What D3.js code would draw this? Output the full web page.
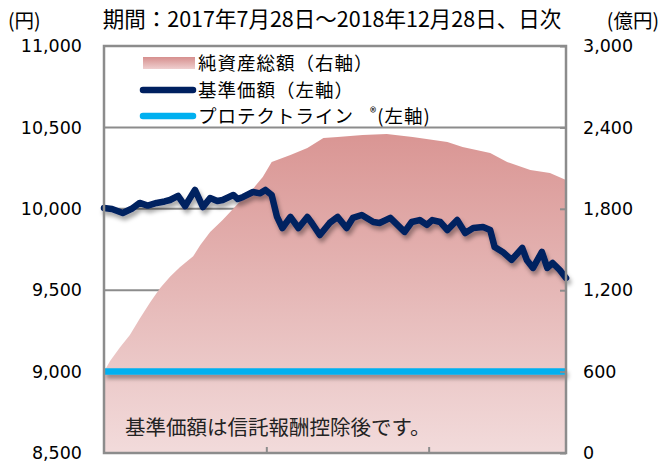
<!DOCTYPE html>
<html>
<head>
<meta charset="utf-8">
<script src="https://cdn.jsdelivr.net/npm/d3@7"></script>
<style>
  body { margin: 0; background: #fff; }
  svg { display: block; }
</style>
</head>
<body>
<svg width="661" height="462"></svg>
<script>
// 基準価額 (left axis, 円)
const navDates = ["2017-07-28","2017-08-06","2017-08-18","2017-08-28","2017-09-06","2017-09-15","2017-09-25",
  "2017-10-04","2017-10-10","2017-10-19","2017-10-27","2017-11-07","2017-11-16","2017-11-24","2017-12-02",
  "2017-12-08","2017-12-20","2017-12-25","2017-12-31","2018-01-11","2018-01-19","2018-01-25","2018-02-01",
  "2018-02-07","2018-02-13","2018-02-22","2018-03-03","2018-03-13","2018-03-18","2018-03-27","2018-04-07",
  "2018-04-16","2018-04-26","2018-05-03","2018-05-13","2018-05-26","2018-06-02","2018-06-14","2018-06-22",
  "2018-06-30","2018-07-08","2018-07-17","2018-07-25","2018-07-31","2018-08-09","2018-08-17","2018-08-28",
  "2018-09-06","2018-09-15","2018-09-26","2018-10-04","2018-10-09","2018-10-18","2018-10-28","2018-11-09",
  "2018-11-14","2018-11-21","2018-12-01","2018-12-07","2018-12-13","2018-12-21","2018-12-28"];
const navValues = [10005,9999,9974,10000,10036,10020,10036,
  10045,10054,10079,10017,10116,10011,10066,10048,
  10054,10085,10060,10073,10103,10095,10116,10085,
  9950,9882,9950,9882,9950,9913,9839,9913,
  9950,9882,9944,9962,9919,9913,9944,9901,
  9858,9919,9931,9901,9931,9919,9870,9931,
  9851,9882,9888,9870,9765,9735,9686,9759,
  9686,9637,9735,9637,9667,9624,9575];

// 純資産総額 (right axis, 億円)
const assetDates = ["2017-07-28","2017-08-04","2017-08-15","2017-08-26","2017-09-06","2017-09-18","2017-09-29",
  "2017-10-10","2017-10-21","2017-11-05","2017-11-13","2017-11-24","2017-12-08","2017-12-27","2018-01-08",
  "2018-01-22","2018-02-01","2018-02-07","2018-02-22","2018-03-13","2018-03-31","2018-04-16","2018-05-14",
  "2018-06-10","2018-07-09","2018-08-17","2018-09-03","2018-10-04","2018-10-23","2018-11-18","2018-12-10","2018-12-28"];
const assetValues = [600,680,780,870,990,1113,1216,
  1300,1370,1450,1533,1629,1717,1850,1924,
  2034,2145,2160,2197,2248,2322,2329,2344,
  2351,2329,2292,2256,2211,2145,2086,2064,2012];

const protectValue = 9000;
const leftTicks = [8500, 9000, 9500, 10000, 10500, 11000];
const rightTicks = [0, 600, 1200, 1800, 2400, 3000];
const xTickDates = ["2018-01-26", "2018-07-27"];
const startDate = "2017-07-28", endDate = "2018-12-28";

const parse = d3.timeParse("%Y-%m-%d");
const jp = "'Noto Sans CJK JP', sans-serif";
const num = "'DejaVu Sans', Verdana, sans-serif";

let svg = d3.select('svg');
let margin = { top: 46, bottom: 9, left: 104, right: 95 };
let width = +svg.attr('width');
let height = +svg.attr('height');

let x = d3.scaleTime()
  .domain([parse(startDate), parse(endDate)])
  .range([margin.left, width - margin.right]);
let y = d3.scaleLinear()
  .domain([8500, 11000])
  .range([height - margin.bottom, margin.top]);
let y2 = d3.scaleLinear()
  .domain([0, 3000])
  .range([height - margin.bottom, margin.top]);

let defs = svg.append("defs");
let grad = defs.append("linearGradient")
  .attr("id", "assetGrad")
  .attr("gradientUnits", "userSpaceOnUse")
  .attr("x1", 0).attr("x2", 0)
  .attr("y1", y2(2400)).attr("y2", y2(0));
grad.append("stop").attr("offset", "0%").attr("stop-color", "#d99492");
grad.append("stop").attr("offset", "100%").attr("stop-color", "#f2dbdb");

let legGrad = defs.append("linearGradient")
  .attr("id", "legGrad")
  .attr("x1", 0).attr("x2", 0).attr("y1", 0).attr("y2", 1);
legGrad.append("stop").attr("offset", "0%").attr("stop-color", "#d68f8e");
legGrad.append("stop").attr("offset", "100%").attr("stop-color", "#efcfcf");

// userSpaceOnUse so the flat protect line still gets a region
let shadow = defs.append("filter").attr("id", "shadow")
  .attr("filterUnits", "userSpaceOnUse")
  .attr("x", 0).attr("y", 0).attr("width", width).attr("height", height);
shadow.append("feDropShadow")
  .attr("dx", 2).attr("dy", 4).attr("stdDeviation", 2.2)
  .attr("flood-color", "#000").attr("flood-opacity", 0.35);

// gridlines
svg.append("g")
  .selectAll("line")
  .data(leftTicks.slice(1, -1))
  .enter()
    .append("line")
    .attr("x1", margin.left).attr("x2", width - margin.right)
    .attr("y1", d => y(d)).attr("y2", d => y(d))
    .attr("stroke", "#8c8c8c")
    .attr("stroke-width", 2);

// net assets area
let assetData = assetDates.map((d, i) => ({ date: parse(d), value: assetValues[i] }));
let area = d3.area()
  .x(d => x(d.date))
  .y0(y2(0))
  .y1(d => y2(d.value));
svg.append("path")
  .datum(assetData)
  .attr("fill", "url(#assetGrad)")
  .attr("d", area);

// protect line
let protectData = [parse(startDate), parse(endDate)];
svg.append("path")
  .datum(protectData)
  .attr("fill", "none")
  .attr("stroke", "#00b0f0")
  .attr("stroke-width", 6.5)
  .attr("filter", "url(#shadow)")
  .attr("d", d3.line().x(d => x(d)).y(() => y(protectValue)));

// NAV line
let navData = navDates.map((d, i) => ({ date: parse(d), value: navValues[i] }));
let line = d3.line()
  .x(d => x(d.date))
  .y(d => y(d.value));
svg.append("path")
  .datum(navData)
  .attr("fill", "none")
  .attr("stroke", "#002060")
  .attr("stroke-width", 6.5)
  .attr("stroke-linejoin", "round")
  .attr("stroke-linecap", "round")
  .attr("filter", "url(#shadow)")
  .attr("d", line);

// plot frame
svg.append("rect")
  .attr("x", margin.left).attr("y", margin.top)
  .attr("width", width - margin.left - margin.right)
  .attr("height", height - margin.top - margin.bottom)
  .attr("fill", "none")
  .attr("stroke", "#8c8c8c")
  .attr("stroke-width", 2.5);

// axes
let yAxis = g => g
  .attr("transform", `translate(${margin.left},0)`)
  .call(d3.axisLeft(y).tickValues(leftTicks).tickFormat(d3.format(",")).tickSize(0).tickPadding(22))
  .call(g => g.select(".domain").remove())
  .call(g => g.selectAll("text").attr("font-family", num).attr("font-size", 17.5).attr("fill", "#000"));
let y2Axis = g => g
  .attr("transform", `translate(${width - margin.right},0)`)
  .call(d3.axisRight(y2).tickValues(rightTicks).tickFormat(d3.format(",")).tickSize(-6).tickPadding(17))
  .call(g => g.select(".domain").remove())
  .call(g => g.selectAll("line").attr("stroke", "#8c8c8c").attr("stroke-width", 2))
  .call(g => g.selectAll("text").attr("font-family", num).attr("font-size", 17.5).attr("fill", "#000"));
let xAxis = g => g
  .attr("transform", `translate(0,${height - margin.bottom})`)
  .call(d3.axisBottom(x).tickValues(xTickDates.map(parse)).tickFormat("").tickSize(-6))
  .call(g => g.select(".domain").remove())
  .call(g => g.selectAll("line").attr("stroke", "#8c8c8c").attr("stroke-width", 2));

svg.append("g").call(yAxis);
svg.append("g").call(y2Axis);
svg.append("g").call(xAxis);

// titles / units
svg.append("text")
  .attr("x", 332).attr("y", 27)
  .attr("text-anchor", "middle")
  .attr("font-family", jp).attr("font-size", 21.5)
  .text("期間：2017年7月28日～2018年12月28日、日次");
svg.append("text")
  .attr("x", 8).attr("y", 28)
  .attr("font-family", jp).attr("font-size", 19.5)
  .text("(円)");
svg.append("text")
  .attr("x", 659).attr("y", 28)
  .attr("text-anchor", "end")
  .attr("font-family", jp).attr("font-size", 19.5)
  .text("(億円)");

// legend
let addLegend = (yPos, kind, label) => {
  let legend = svg.append("g").attr("class", "legend");
  if (kind === "area") {
    legend.append("rect")
      .attr("x", 143).attr("y", yPos - 6)
      .attr("width", 52).attr("height", 12)
      .attr("fill", "url(#legGrad)");
  } else {
    legend.append("line")
      .attr("x1", 143).attr("x2", 193)
      .attr("y1", yPos).attr("y2", yPos)
      .attr("stroke", kind)
      .attr("stroke-width", 6.5)
      .attr("stroke-linecap", "round");
  }
  let t = legend.append("text")
    .attr("x", 198).attr("y", yPos + 7)
    .attr("font-family", jp).attr("font-size", 18.5)
    .attr("letter-spacing", 1);
  return t.text(label);
};
addLegend(63, "area", "純資産総額（右軸）");
addLegend(90, "#002060", "基準価額（左軸）");
let pl = addLegend(116, "#00b0f0", "プロテクトライン");
pl.append("tspan").attr("dx", 16).attr("dy", -6).attr("font-size", 13).text("®");
pl.append("tspan").attr("dy", 6).text("(左軸)");

// footnote
svg.append("text")
  .attr("x", 125).attr("y", 435)
  .attr("font-family", jp).attr("font-size", 20.5)
  .attr("fill", "#222")
  .text("基準価額は信託報酬控除後です。");
</script>
</body>
</html>
